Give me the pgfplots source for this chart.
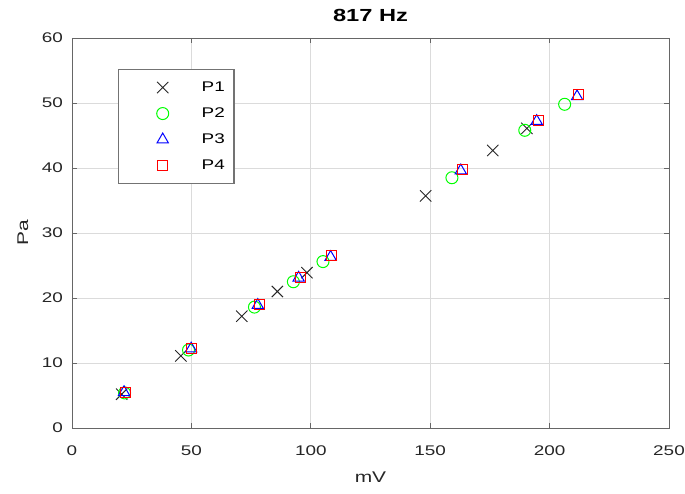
\documentclass[border=0pt]{standalone}
\usepackage{pgfplots}
\pgfplotsset{compat=1.18}
\usepackage{fontspec}
\setmainfont{Liberation Sans}[FakeStretch=1.35]
\begin{document}
\begin{tikzpicture}
\useasboundingbox (-72bp,-66bp) rectangle (613bp,428bp);
\begin{axis}[
  at={(0,0)}, anchor=south west,
  width=597bp, height=390bp, scale only axis,
  xmin=0, xmax=250, ymin=0, ymax=60,
  xtick={0,50,...,250}, ytick={0,10,...,60},
  grid=major, major grid style={color=black!14, line width=0.7bp},
  axis line style={black!60, line width=0.9bp},
  tick style={black!60, line width=0.9bp},
  tick align=inside, major tick length=5.5bp,
  /pgf/number format/assume math mode=true,
  ticklabel style={font=\fontsize{14bp}{16bp}\selectfont, text=black!85},
  xticklabel style={anchor=north, inner sep=0pt, yshift=-18bp},
  yticklabel style={anchor=east, inner sep=0pt, xshift=-9bp},
  xlabel={mV}, ylabel={Pa},
  label style={font=\fontsize{15.5bp}{18bp}\selectfont, text=black!85},
  xlabel style={at={(axis description cs:0.5,-0.141)}, anchor=base},
  ylabel style={at={(axis description cs:-0.0737,0.5)}, anchor=base, rotate=0},
  title={817 Hz},
  title style={font=\fontsize{17.5bp}{20bp}\selectfont\bfseries, at={(axis description cs:0.5,1.0282)}, anchor=base},
  legend cell align=left,
  legend style={at={(axis description cs:0.077,0.921)}, anchor=north west,
    draw=black!55, line width=1.5bp, fill=white,
    inner xsep=0pt, inner ysep=5bp, row sep=0pt,
    nodes={inner xsep=9bp, inner ysep=0pt},
    font=\fontsize{14bp}{16bp}\selectfont},
  legend image code/.code={\path[draw=none,fill=none] (-44bp,-13bp) rectangle (30bp,13bp); \draw[#1] plot coordinates {(0bp,0bp)};},
]
\addplot[only marks, mark=x, mark size=8bp, color=black!85, line width=0.9bp] coordinates {
(20.8,5.2) (45.6,11.1) (71.1,17.2) (86.0,21.0) (98.4,23.9) (148.1,35.7) (176.2,42.7) (190.5,46.1)};
\addlegendentry{P1}
\addplot[only marks, mark=o, mark size=6bp, color={rgb,1:red,0;green,1;blue,0}, line width=1bp] coordinates {
(22.0,5.4) (48.8,12.0) (76.4,18.6) (92.7,22.5) (105.1,25.6) (159.1,38.5) (189.6,45.8) (206.3,49.8)};
\addlegendentry{P2}
\addplot[only marks, mark=triangle, mark size=6.5bp, color=blue, line width=1bp] coordinates {
(21.8,5.5) (49.9,12.2) (77.8,18.9) (94.9,23.1) (108.3,26.3) (162.8,39.6) (194.6,47.2) (211.5,51.0)};
\addlegendentry{P3}
\addplot[only marks, mark=square, mark size=5bp, color=red, line width=1bp] coordinates {
(22.2,5.4) (50.2,12.3) (78.4,19.0) (95.6,23.2) (108.8,26.5) (163.6,39.7) (195.5,47.3) (212.0,51.3)};
\addlegendentry{P4}
\end{axis}
\end{tikzpicture}
\end{document}
